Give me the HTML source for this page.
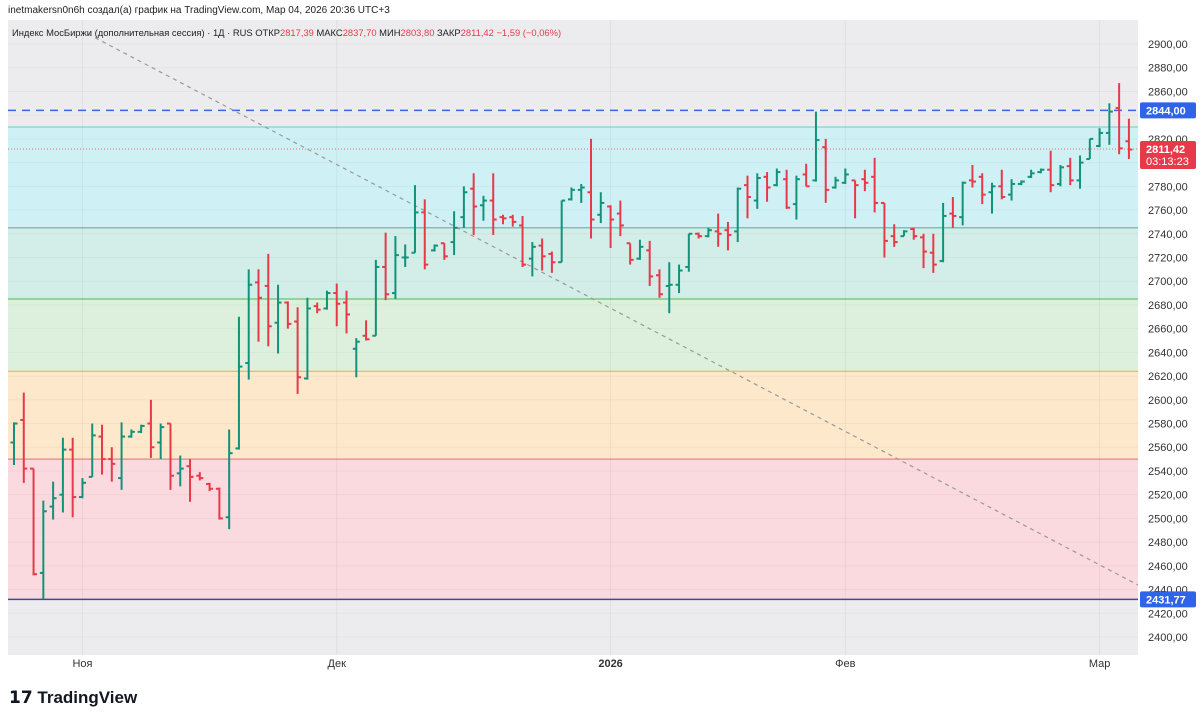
<!DOCTYPE html>
<html><head><meta charset="utf-8"><style>
body{margin:0;width:1200px;height:721px;background:#fff;overflow:hidden;font-family:"Liberation Sans","Noto Sans CJK SC",sans-serif}
svg text{font-family:"Liberation Sans","Noto Sans CJK SC",sans-serif}
</style></head><body>
<svg id="c" width="1200" height="721">
</svg>
<script>
const opens=[2564,2583,2542,2454,2510,2520,2558,2518,2535,2569,2550,2534,2569,2573,2580,2564,2580,2538,2544,2536,2529,2525,2501,2559,2631,2699,2696,2665,2682,2666,2618,2679,2677,2690,2682,2643,2654,2654,2712,2690,2720,2724,2758,2726,2732,2733,2754,2778,2764,2768,2754,2754,2747,2719,2730,2723,2716,2769,2777,2775,2756,2763,2757,2732,2719,2726,2705,2696,2697,2712,2740,2738,2742,2743,2742,2781,2768,2788,2781,2786,2765,2790,2785,2813,2779,2783,2785,2786,2788,2766,2738,2738,2744,2737,2724,2717,2757,2754,2785,2788,2775,2780,2773,2782,2788,2792,2794,2782,2797,2785,2803,2814,2825,2846,2818];
const highs=[2581,2606,2542,2515,2531,2568,2568,2534,2580,2579,2560,2581,2575,2579,2600,2580,2580,2553,2550,2539,2530,2526,2575,2670,2710,2710,2723,2697,2683,2678,2686,2682,2692,2698,2692,2652,2667,2718,2741,2738,2731,2781,2769,2731,2732,2759,2780,2791,2772,2791,2756,2756,2755,2733,2736,2725,2768,2779,2782,2820,2775,2764,2768,2732,2735,2734,2710,2716,2714,2740,2741,2745,2757,2750,2779,2789,2791,2792,2795,2794,2789,2799,2843,2820,2788,2795,2785,2794,2804,2766,2748,2743,2745,2740,2740,2766,2771,2784,2798,2791,2783,2794,2786,2785,2794,2795,2810,2798,2804,2806,2820,2829,2850,2867,2837];
const lows=[2545,2530,2452,2432,2499,2505,2501,2517,2535,2537,2531,2524,2568,2572,2551,2550,2524,2527,2514,2532,2523,2499,2491,2558,2617,2649,2645,2639,2660,2605,2617,2673,2676,2662,2656,2619,2650,2654,2684,2685,2712,2724,2710,2725,2718,2722,2745,2739,2751,2739,2748,2746,2712,2704,2709,2707,2716,2768,2766,2736,2749,2728,2738,2714,2718,2696,2686,2673,2690,2708,2736,2737,2729,2726,2733,2753,2761,2767,2780,2761,2752,2780,2784,2766,2778,2782,2753,2776,2758,2720,2729,2738,2735,2711,2707,2716,2745,2747,2779,2765,2757,2769,2768,2781,2787,2791,2775,2780,2781,2778,2803,2813,2815,2807,2803];
const closes=[2580,2542,2453,2506,2517,2558,2518,2530,2570,2550,2546,2569,2573,2578,2560,2577,2536,2542,2535,2534,2525,2500,2555,2628,2697,2686,2662,2682,2664,2619,2677,2676,2690,2681,2672,2649,2651,2712,2689,2722,2720,2758,2714,2730,2721,2745,2775,2763,2768,2752,2753,2750,2714,2729,2721,2716,2768,2777,2779,2752,2766,2752,2747,2718,2729,2704,2689,2697,2709,2740,2738,2743,2740,2739,2778,2771,2787,2779,2792,2762,2786,2780,2819,2777,2785,2790,2781,2783,2766,2734,2733,2742,2738,2725,2714,2755,2755,2783,2784,2773,2780,2771,2782,2784,2791,2794,2781,2796,2785,2800,2820,2825,2843,2812,2811];
const priceTicks=[2900,2880,2860,2820,2780,2760,2740,2720,2700,2680,2660,2640,2620,2600,2580,2560,2540,2520,2500,2480,2460,2440,2420,2400];
const gridTicks=[2900,2880,2860,2840,2820,2800,2780,2760,2740,2720,2700,2680,2660,2640,2620,2600,2580,2560,2540,2520,2500,2480,2460,2440,2420,2400];
const monthLabels=["Ноя","Дек","2026","Фев","Мар"];
const monthBars=[7,33,61,85,111];
const bandLevels=[2830,2745,2685,2624,2550,2431.77];

const NS="http://www.w3.org/2000/svg";
const svg=document.getElementById('c');
const L=8,R=1138,T=20,B=655;
const y=p=>44+(2900-p)*1.186;
const x=i=>14+i*9.78;
function mk(tag,attrs,parent){const e=document.createElementNS(NS,tag);for(const k in attrs)e.setAttribute(k,attrs[k]);(parent||svg).appendChild(e);return e;}
function fmt(v){return v.toFixed(2).replace('.',',');}

let r=mk('rect',{x:L,y:T,width:R-L,height:B-T,fill:'#ececee'});

const bandFill=['#cff1f5','#d3eee9','#ddf0dd','#fde8cb','#fadadf'];
const bandLine=['#7fd3d6','#5bb5a0','#6cc26c','#f0b050','#e08888'];
for(let k=0;k<5;k++){
  const b=mk('rect',{x:L,y:y(bandLevels[k]),width:R-L,height:y(bandLevels[k+1])-y(bandLevels[k]),fill:bandFill[k]});
  
  const ln=mk('line',{x1:L,x2:R,y1:y(bandLevels[k]),y2:y(bandLevels[k]),stroke:bandLine[k],'stroke-width':1.2});
  
}
gridTicks.forEach(p=>{mk('line',{x1:L,x2:R,y1:y(p),y2:y(p),stroke:'rgba(0,0,0,0.035)'});});
monthBars.forEach(i=>{mk('line',{x1:x(i),x2:x(i),y1:T,y2:B,stroke:'rgba(0,0,0,0.05)'});});
let ll=mk('line',{x1:L,x2:R,y1:y(2431.77),y2:y(2431.77),stroke:'#3a4aa0','stroke-width':1.5});

let hl=mk('line',{x1:L,x2:R,y1:y(2844),y2:y(2844),stroke:'#3a66e0','stroke-width':1.5,'stroke-dasharray':'8 6'});

let cl=mk('line',{x1:L,x2:R,y1:y(2811.42),y2:y(2811.42),stroke:'#e07070','stroke-width':1,'stroke-dasharray':'1 2'});

let tl=mk('line',{x1:88,y1:34,x2:R,y2:585,stroke:'#999','stroke-width':1.2,'stroke-dasharray':'4 4'});

for(let i=0;i<opens.length;i++){
  const col=closes[i]>=opens[i]?'#13927a':'#e8394a';
  const g=mk('g',{stroke:col,'stroke-width':2});
  
  const cx=x(i);
  mk('line',{x1:cx,x2:cx,y1:y(highs[i]),y2:y(lows[i])},g);
  mk('line',{x1:cx-3.5,x2:cx,y1:y(opens[i]),y2:y(opens[i])},g);
  mk('line',{x1:cx,x2:cx+3.5,y1:y(closes[i]),y2:y(closes[i])},g);
}
let ax=mk('rect',{x:R,y:T,width:1200-R,height:B-T,fill:'#fff'});

priceTicks.forEach(p=>{
  const t=mk('text',{x:1148,y:y(p)+4,'font-size':11,fill:'#333'});t.textContent=fmt(p);
  
});
function tag(p,txt,fill,h,name,sub){
  const g=mk('g',{});
  mk('rect',{x:R+2,y:y(p)-8,width:56,height:h,fill:fill,rx:2},g);
  const t=mk('text',{x:1146,y:y(p)+4,'font-size':11,fill:'#fff','font-weight':'bold'},g);t.textContent=txt;
  if(sub){const s=mk('text',{x:1146,y:y(p)+16,'font-size':11,fill:'#fff'},g);s.textContent=sub;}
}
tag(2844,'2844,00','#2f63e8',16,'high-price-tag');
tag(2431.77,'2431,77','#2f63e8',16,'low-price-tag');
tag(2811.42,'2811,42','#e8394a',28,'last-price-tag','03:13:23');
monthLabels.forEach((m,k)=>{
  const t=mk('text',{x:x(monthBars[k]),y:667,'font-size':11,fill:'#333','text-anchor':'middle','font-weight':m==='2026'?'bold':'normal'});t.textContent=m;
  
});
let h=mk('text',{x:8,y:13,'font-size':10,fill:'#222'});h.textContent='inetmakersn0n6h создал(а) график на TradingView.com, Мар 04, 2026 20:36 UTC+3';

let lg=mk('text',{x:12,y:36,'font-size':9.4,fill:'#222'});

lg.innerHTML='Индекс МосБиржи (дополнительная сессия) · 1Д · RUS  ОТКР<tspan fill="#e8394a">2817,39</tspan>  МАКС<tspan fill="#e8394a">2837,70</tspan>  МИН<tspan fill="#e8394a">2803,80</tspan>  ЗАКР<tspan fill="#e8394a">2811,42  −1,59 (−0,06%)</tspan>';
let lo=mk('text',{x:9,y:703,'font-size':17,'font-weight':'bold',fill:'#131722'});lo.textContent='𝟭𝟳 TradingView';

</script>
</body></html>
